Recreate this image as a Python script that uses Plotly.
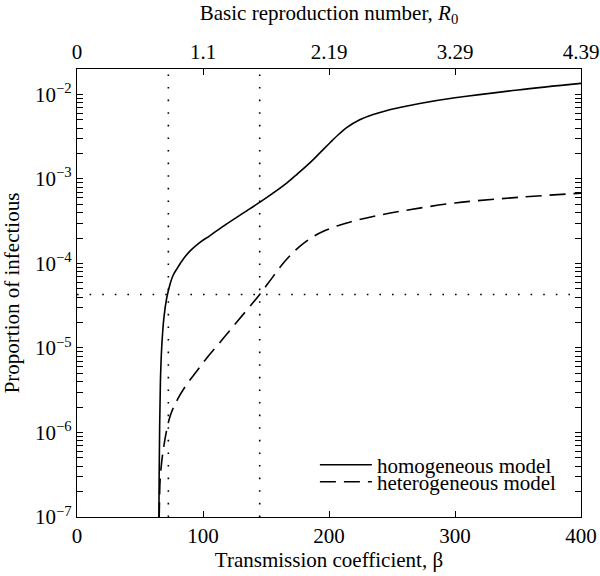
import plotly.graph_objects as go

# ---- data ----
beta_homogeneous = [64.9, 65.2, 65.6, 66.2, 67.2, 69.0, 71.2, 74.0, 76.4, 80.0, 84.4, 90.0,
                    97.6, 105.6, 115.0, 126.7, 135.0, 145.2, 155.0, 166.4, 175.0, 185.0,
                    193.0, 201.0, 208.0, 214.0, 224.0, 235.0, 246.0, 257.0, 272.0, 300.0, 350.0, 400.0]
prop_homogeneous = [5e-8, 3e-7, 1.2e-6, 4e-6, 1.0e-5, 2.3e-5, 3.9e-5, 5.8e-5, 7.3e-5, 9.0e-5, 1.13e-4, 1.42e-4,
                    1.78e-4, 2.14e-4, 2.69e-4, 3.51e-4, 4.22e-4, 5.31e-4, 6.7e-4, 8.93e-4, 1.15e-3, 1.56e-3,
                    2.05e-3, 2.70e-3, 3.40e-3, 4.05e-3, 4.98e-3, 5.79e-3, 6.46e-3, 7.05e-3, 7.82e-3, 9.12e-3,
                    1.13e-2, 1.35e-2]

beta_heterogeneous = [64.9, 65.5, 66.0, 68.5, 74.0, 80.0, 87.0, 95.0, 103.0, 115.0, 127.0, 145.0,
                      155.0, 164.0, 172.0, 180.0, 188.0, 196.0, 207.0, 217.0, 235.0, 257.0, 300.0, 350.0, 400.0]
prop_heterogeneous = [5e-8, 1.6e-7, 2.8e-7, 6.3e-7, 1.58e-6, 2.5e-6, 3.7e-6, 5.3e-6, 7.6e-6, 1.24e-5, 2.04e-5, 4.3e-5,
                      6.8e-5, 1.02e-4, 1.37e-4, 1.74e-4, 2.1e-4, 2.42e-4, 2.8e-4, 3.1e-4, 3.6e-4, 4.15e-4,
                      5.2e-4, 6.05e-4, 6.8e-4]

threshold_betas = [72.5, 145.0]
threshold_prop = 4.3e-5

beta_ticks = [0, 100, 200, 300, 400]
r0_tick_labels = ["0", "1.1", "2.19", "3.29", "4.39"]
Y_MIN, Y_MAX = 1e-7, 2e-2
y_tick_vals = [1e-7, 1e-6, 1e-5, 1e-4, 1e-3, 1e-2]
y_tick_text = ["10<sup>\u22127</sup>", "10<sup>\u22126</sup>", "10<sup>\u22125</sup>",
               "10<sup>\u22124</sup>", "10<sup>\u22123</sup>", "10<sup>\u22122</sup>"]
y_minor_vals = [m * d for d in y_tick_vals for m in range(2, 10) if m * d <= Y_MAX]

FONT = "Liberation Serif"
FS = 21

fig = go.Figure()

dot_line = dict(color="black", width=1.6, dash="1.6px,11px")

# vertical threshold lines (drawn on the top R0 axis, which shares the beta scale)
vx, vy = [], []
for b in threshold_betas:
    vx += [b, b, None]
    vy += [Y_MIN, Y_MAX, None]
fig.add_trace(go.Scatter(x=vx, y=vy, mode="lines", line=dot_line, xaxis="x2", yaxis="y",
                         showlegend=False, hoverinfo="skip"))
fig.add_hline(y=threshold_prop, line=dot_line, layer="below")

fig.add_trace(go.Scatter(
    x=beta_homogeneous, y=prop_homogeneous, mode="lines", name="homogeneous model",
    line=dict(color="black", width=1.6, shape="spline", smoothing=1.0),
    legend="legend",
))
fig.add_trace(go.Scatter(
    x=beta_heterogeneous, y=prop_heterogeneous, mode="lines", name="heterogeneous model",
    line=dict(color="black", width=1.6, dash="16px,8px", shape="spline", smoothing=1.0),
    legend="legend2",
))

axis_common = dict(
    showline=True, linecolor="black", linewidth=1.3, ticks="inside", ticklen=6,
    tickcolor="black", tickwidth=1.2, showgrid=False, zeroline=False, automargin=False,
    tickfont=dict(family=FONT, size=FS, color="black"),
)

fig.update_layout(
    width=600, height=576,
    paper_bgcolor="white", plot_bgcolor="white",
    margin=dict(l=77, r=19, t=69, b=59, pad=0),
    font=dict(family=FONT, size=FS, color="black"),
    xaxis=dict(
        range=[0, 400], tickmode="array", tickvals=beta_ticks,
        title=dict(text="Transmission coefficient, \u03b2", font=dict(family=FONT, size=FS), standoff=2),
        mirror=True, **axis_common,
    ),
    xaxis2=dict(
        range=[0, 400], overlaying="x", side="top", anchor="y",
        tickmode="array", tickvals=beta_ticks, ticktext=r0_tick_labels,
        title=dict(text="Basic reproduction number, <i>R</i><sub>0</sub>", font=dict(family=FONT, size=FS), standoff=14),
        **axis_common,
    ),
    yaxis=dict(
        type="log", range=[-7, -1.699], tickmode="array", tickvals=y_tick_vals, ticktext=y_tick_text,
        title=dict(text="Proportion of infectious", font=dict(family=FONT, size=FS)),
        mirror="allticks",
        minor=dict(tickmode="array", tickvals=y_minor_vals, ticks="inside", ticklen=3, tickcolor="black", tickwidth=1),
        **axis_common,
    ),
    showlegend=True,
    legend=dict(x=0.472, y=0.116, xanchor="left", yanchor="middle", bgcolor="rgba(0,0,0,0)",
                font=dict(family=FONT, size=FS), itemwidth=52),
    legend2=dict(x=0.472, y=0.078, xanchor="left", yanchor="middle", bgcolor="rgba(0,0,0,0)",
                 font=dict(family=FONT, size=FS), itemwidth=52),
)

fig.write_html("out.html", config={"displayModeBar": False},
               post_script="document.body.style.margin='0';document.body.style.overflow='hidden';")
